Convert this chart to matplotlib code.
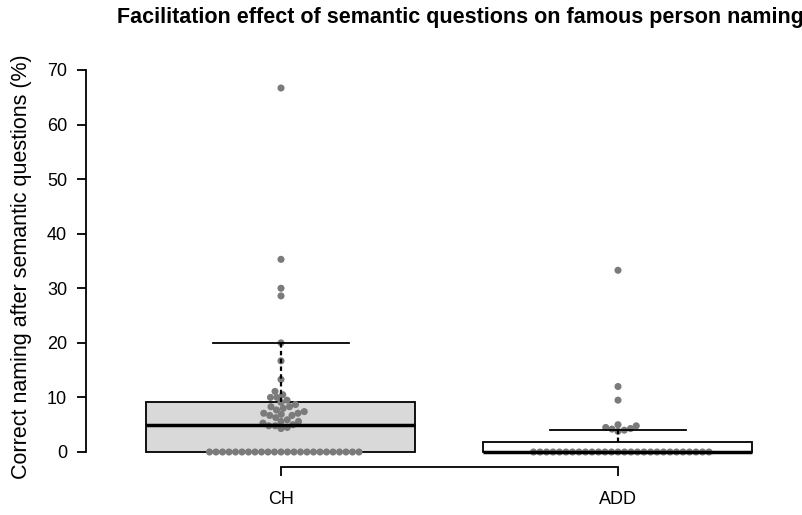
import matplotlib
matplotlib.use("Agg")
import matplotlib.pyplot as plt
import numpy as np

plt.rcParams['font.family'] = ['Liberation Sans', 'DejaVu Sans']

# Données
groups = ["CH", "ADD"]
ch_values = [66.7, 35.3, 30.0, 28.6, 20.0, 16.7, 13.3, 11.1, 10.5, 10.0, 10.0,
             9.5, 9.1, 8.7, 8.3, 8.3, 8.0, 7.7, 7.4, 7.1, 7.1, 6.9, 6.7, 6.7,
             6.3, 5.9, 5.6, 5.6, 5.3, 5.0, 4.8, 4.8, 4.5, 4.3] + [0.0] * 24
add_values = [33.3, 12.0, 9.5, 5.0, 4.8, 4.5, 4.3, 4.2, 4.0, 3.8] + [0.0] * 28

# Statistiques des boîtes
box_q1 = [0.0, 0.0]
box_med = [5.0, 0.0]
box_q3 = [9.1, 1.83]
box_whishi = [20.0, 4.0]
box_colors = ["#d9d9d9", "white"]

fig = plt.figure(figsize=(8.03, 5.15), dpi=100)
ax = fig.add_axes([86 / 803, 48 / 515, 717 / 803, 407 / 515])

px_per_x = 337.0
px_per_y = 382.0 / 70
ax.set_xlim(1 - 195 / px_per_x, 2 + 185 / px_per_x)
ax.set_ylim(-15 / px_per_y, 70 + 10 / px_per_y)

stats = []
for i in range(2):
    stats.append(dict(med=box_med[i], q1=box_q1[i], q3=box_q3[i],
                      whislo=box_q1[i], whishi=box_whishi[i], fliers=[]))

bp = ax.bxp(stats, positions=[1, 2], widths=269 / px_per_x, capwidths=136 / px_per_x,
            patch_artist=True, showfliers=False)
for patch, c in zip(bp['boxes'], box_colors):
    patch.set_facecolor(c)
    patch.set_edgecolor('black')
    patch.set_linewidth(1.3)
    patch.set_zorder(1)
for m in bp['medians']:
    m.set_color('black')
    m.set_linewidth(2.5)
    m.set_zorder(3)
for w in bp['whiskers']:
    w.set_color('black')
    w.set_linewidth(1.6)
    w.set_linestyle((0, (2, 1.5)))
    w.set_zorder(3)
for k, c in enumerate(bp['caps']):
    c.set_color('black')
    c.set_linewidth(1.3)
    c.set_zorder(3)
    if k % 2 == 0:
        c.set_visible(False)


# Beeswarm simple (en pixels)
def swarm(values, d=6.3):
    vals = np.sort(np.asarray(values, dtype=float))
    placed = []
    offsets = np.zeros(len(vals))
    for i, v in enumerate(vals):
        y = v * px_per_y
        step = 0.25
        k = 0
        while True:
            for cand in ([0.0] if k == 0 else [k * step, -k * step]):
                ok = True
                for (px, py) in placed:
                    if (cand - px) ** 2 + (y - py) ** 2 < d * d:
                        ok = False
                        break
                if ok:
                    break
            else:
                k += 1
                continue
            break
        placed.append((cand, y))
        offsets[i] = cand / px_per_x
    return vals, offsets


for pos, vals in zip([1, 2], [ch_values, add_values]):
    v, off = swarm(vals)
    ax.scatter(pos + off, v, s=26, color='#7b7b7b', edgecolors='none', zorder=2)

for s in ['top', 'right']:
    ax.spines[s].set_visible(False)
ax.spines['left'].set_bounds(0, 70)
ax.spines['bottom'].set_bounds(1, 2)
ax.spines['left'].set_linewidth(1.3)
ax.spines['bottom'].set_linewidth(1.3)

ax.set_yticks(np.arange(0, 71, 10))
ax.set_xticks([1, 2])
ax.set_xticklabels(groups)
ax.tick_params(axis='y', length=6.5, width=1.3, pad=7, labelsize=13)
ax.tick_params(axis='x', length=6.5, width=1.3, pad=11, labelsize=13)

fig.text(22 / 803, 1 - 267 / 515, "Correct naming after semantic questions (%)",
         rotation=90, ha='center', va='center', fontsize=15.5)
fig.text(460 / 803, 1 - 18 / 515,
         "Facilitation effect of semantic questions on famous person naming",
         ha='center', va='center', fontsize=15.5, fontweight='bold')

fig.savefig("out.png", dpi=100)
